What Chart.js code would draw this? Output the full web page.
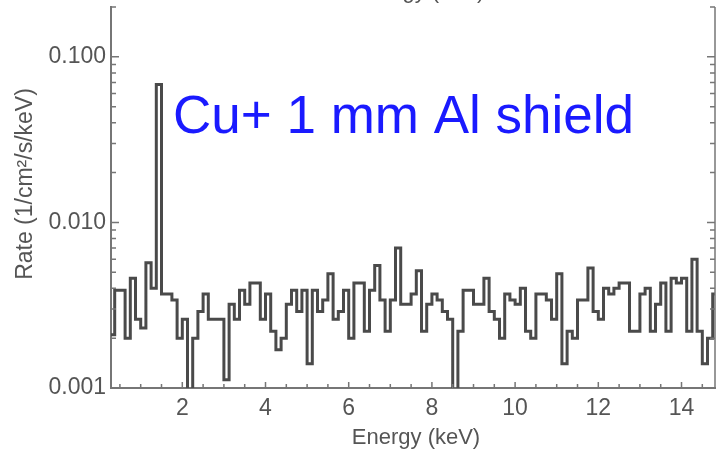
<!DOCTYPE html>
<html>
<head>
<meta charset="utf-8">
<script src="https://cdn.jsdelivr.net/npm/chart.js@4.4.1/dist/chart.umd.min.js"></script>
<style>
  body { margin: 0; background: #fff; }
  #wrap { width: 720px; height: 452px; }
</style>
</head>
<body>
<div id="wrap"><canvas id="rateChart" width="720" height="452"></canvas></div>
<script>
// Histogram bins (keV), one rate per bin
const binStart = 0.25;
const binWidth = 0.125;
const rates = [
  0.0021, 0.0039, 0.0039, 0.0020, 0.0046, 0.0026, 0.0023, 0.0057, 0.0040, 0.068,
  0.0037, 0.0037, 0.0034, 0.0020, 0.0026, 0.0008, 0.0020, 0.0029, 0.0037, 0.0026,
  0.0026, 0.0026, 0.00112, 0.0032, 0.0026, 0.0039, 0.0032, 0.0043, 0.0043, 0.0026,
  0.0037, 0.0022, 0.0017, 0.0020, 0.0032, 0.0039, 0.0029, 0.0039, 0.0014, 0.0039,
  0.0029, 0.0034, 0.0049, 0.0026, 0.0029, 0.0039, 0.0020, 0.0043, 0.0043, 0.0022,
  0.0039, 0.0055, 0.0034, 0.0022, 0.0034, 0.0070, 0.0032, 0.0032, 0.0037, 0.0051,
  0.0022, 0.0032, 0.0037, 0.0034, 0.0029, 0.0026, 0.0008, 0.0022, 0.0039, 0.0039,
  0.0032, 0.0032, 0.0046, 0.0029, 0.0026, 0.0020, 0.0037, 0.0034, 0.0032, 0.0040,
  0.0022, 0.0020, 0.0037, 0.0037, 0.0034, 0.0026, 0.0049, 0.0014, 0.0022, 0.0020,
  0.0034, 0.0034, 0.0053, 0.0029, 0.0026, 0.0040, 0.0037, 0.0040, 0.0043, 0.0043,
  0.0022, 0.0022, 0.0037, 0.0040, 0.0022, 0.0032, 0.0043, 0.0022, 0.0046, 0.0043,
  0.0046, 0.0022, 0.0060, 0.0022, 0.0014, 0.0020, 0.0037
];
const xTicks = [2, 4, 6, 8, 10, 12, 14];
const yTicks = [0.001, 0.01, 0.1];
const xRange = [0.286, 14.805];
const yRange = [0.001, 0.2];
const annotationText = 'Cu+ 1 mm Al shield';
const xTitle = 'Energy (keV)';
const yTitle = 'Rate (1/cm\u00B2/s/keV)';

const axisColor = '#767676';
const textColor = '#555555';
const fontFamily = '"Liberation Sans", Arial, sans-serif';

// left edge of each bin, plus a closing point at the end of the last bin
const points = rates.map((r, i) => ({ x: binStart + i * binWidth, y: r }));
points.push({ x: binStart + rates.length * binWidth, y: rates[rates.length - 1] });

// inward ticks, right-hand axis, titles and the label
const decorations = {
  id: 'decorations',
  afterDraw(chart) {
    const { ctx, chartArea: area, scales: { x, y } } = chart;
    ctx.save();
    ctx.strokeStyle = axisColor;
    ctx.lineWidth = 1.5;

    // right axis line
    ctx.beginPath();
    ctx.moveTo(area.right, area.top);
    ctx.lineTo(area.right, area.bottom);
    ctx.stroke();

    // y ticks on both sides (log minors)
    ctx.beginPath();
    for (let d = 0.001; d < 1; d *= 10) {
      for (let m = 1; m < 10; m++) {
        const v = d * m;
        if (v < yRange[0] || v > yRange[1]) continue;
        const py = y.getPixelForValue(v);
        const len = m === 1 ? 8 : 5;
        ctx.moveTo(area.left, py);
        ctx.lineTo(area.left + len, py);
        ctx.moveTo(area.right, py);
        ctx.lineTo(area.right - len, py);
      }
    }
    // x ticks every 0.5 keV
    for (let v = 0.5; v < xRange[1]; v += 0.5) {
      const px = x.getPixelForValue(v);
      const len = v % 2 === 0 ? 6 : 4;
      ctx.moveTo(px, area.bottom);
      ctx.lineTo(px, area.bottom - len);
    }
    ctx.stroke();

    // titles
    ctx.fillStyle = textColor;
    ctx.font = '22px ' + fontFamily;
    ctx.textAlign = 'center';
    ctx.textBaseline = 'middle';
    ctx.fillText(xTitle, 416, 438);
    ctx.save();
    ctx.translate(26, 184);
    ctx.rotate(-Math.PI / 2);
    ctx.font = '23px ' + fontFamily;
    ctx.fillText(yTitle, 0, 0);
    ctx.restore();

    // cut-off title of the panel above
    ctx.textAlign = 'left';
    ctx.textBaseline = 'alphabetic';
    ctx.fillText(xTitle, 356, -2);

    // blue label
    ctx.fillStyle = '#1a1aff';
    ctx.font = '53px ' + fontFamily;
    ctx.fillText(annotationText, 173, 133);

    ctx.restore();
  }
};

const ctx = document.getElementById('rateChart').getContext('2d');
window.rateChart = new Chart(ctx, {
  type: 'line',
  data: {
    datasets: [{
      data: points,
      stepped: 'before',
      borderColor: '#4a4a4a',
      borderWidth: 3,
      pointRadius: 0,
      fill: false
    }, {
      data: points,
      stepped: 'before',
      borderColor: '#d8d8d8',
      borderWidth: 1,
      pointRadius: 0,
      fill: false
    }]
  },
  options: {
    responsive: false,
    animation: false,
    layout: { padding: { left: 0, right: 5, top: 7, bottom: 0 } },
    plugins: {
      legend: { display: false },
      tooltip: { enabled: false }
    },
    scales: {
      x: {
        type: 'linear',
        min: xRange[0],
        max: xRange[1],
        grid: { display: false, drawTicks: false },
        border: { display: true, color: axisColor, width: 2 },
        afterBuildTicks: scale => { scale.ticks = xTicks.map(v => ({ value: v })); },
        afterFit: scale => {
          scale.height = 64;
          scale.paddingLeft = 0;
          scale.paddingRight = 0;
        },
        ticks: {
          color: textColor,
          font: { family: fontFamily, size: 23 },
          padding: 7,
          maxRotation: 0,
          autoSkip: false,
          callback: v => String(v)
        }
      },
      y: {
        type: 'logarithmic',
        min: yRange[0],
        max: yRange[1],
        grid: { display: false, drawTicks: false },
        border: { display: true, color: axisColor, width: 2 },
        afterBuildTicks: scale => { scale.ticks = yTicks.map(v => ({ value: v })); },
        afterFit: scale => {
          scale.width = 111;
          scale.paddingTop = 0;
          scale.paddingBottom = 0;
        },
        ticks: {
          color: textColor,
          font: { family: fontFamily, size: 23 },
          padding: 5,
          autoSkip: false,
          callback: v => Number(v).toFixed(3)
        }
      }
    }
  },
  plugins: [decorations]
});
</script>
</body>
</html>
